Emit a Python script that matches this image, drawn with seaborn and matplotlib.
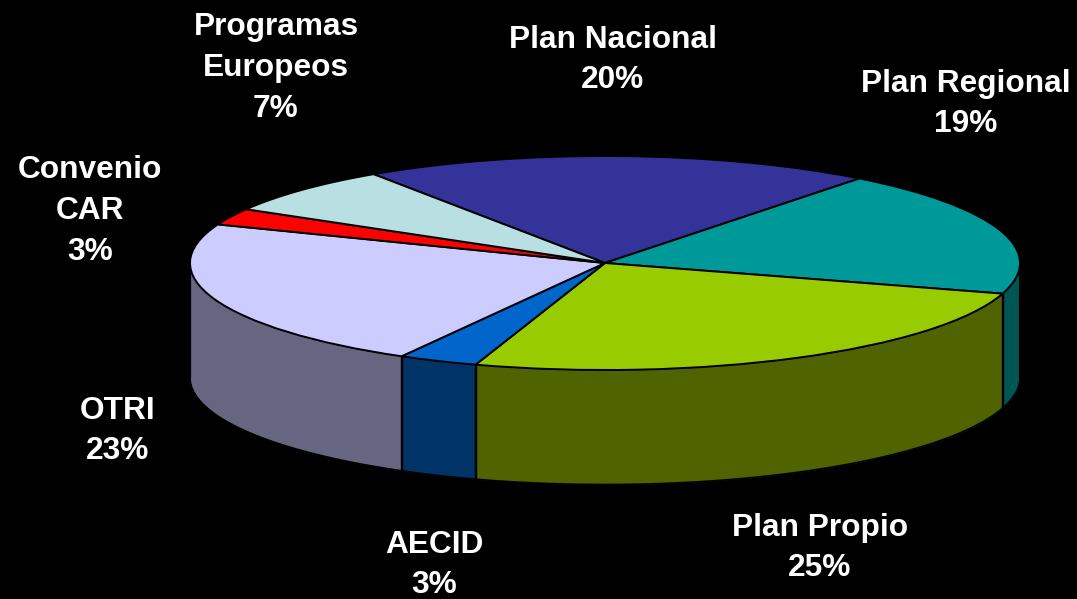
import numpy as np
import matplotlib
matplotlib.use("Agg")
import matplotlib.pyplot as plt
import seaborn as sns

categories = ["Plan Nacional", "Plan Regional", "Plan Propio", "AECID", "OTRI", "Convenio CAR", "Programas Europeos"]
shares = [19.9, 19.1, 25.4, 3.1, 22.7, 2.5, 7.2]
percent_labels = ["20%", "19%", "25%", "3%", "23%", "3%", "7%"]
top_colors = ["#333399", "#009999", "#99CC00", "#0066CC", "#CCCCFF", "#FF0000", "#B8E0E2"]
side_colors = ["#1A1A4D", "#005555", "#4F6300", "#003366", "#666680", "#800000", "#5C7071"]
label_lines = ["Plan Nacional", "Plan Regional", "Plan Propio", "AECID", "OTRI", "Convenio\nCAR", "Programas\nEuropeos"]
label_px = [(613, 60), (966, 104), (820, 548), (434, 565), (118, 431), (90, 211), (276, 68)]

W, H = 1077, 599
CX, CY, RX, RY, DEPTH = 605, 263, 415, 107, 114.5
START = 123.9

sns.set_theme(style="white", rc={"figure.facecolor": "black", "axes.facecolor": "black"})
plt.rcParams["font.family"] = ["Liberation Sans", "DejaVu Sans"]

fig = plt.figure(figsize=(W / 100, H / 100), dpi=100, facecolor="black")
ax = fig.add_axes([0, 0, 1, 1])

# Side wall: the front half of the rim, extruded downward
depth = DEPTH / RY
fractions = np.cumsum([0] + shares) / sum(shares)
edges = START - 360 * fractions
for i, color in enumerate(side_colors):
    a0, a1 = edges[i], edges[i + 1]
    for shift in (0, -360):
        l, h = max(a1 - shift, -180), min(a0 - shift, 0)
        if h <= l:
            continue
        t = np.radians(np.linspace(h, l, 80))
        x, y = np.cos(t), np.sin(t)
        ax.fill_between(x, y, y - depth, color=color, lw=0, zorder=1)
        ax.plot(x, y - depth, color="black", lw=1.2, zorder=2)
        for tv in (t[0], t[-1]):
            ax.plot([np.cos(tv)] * 2, [np.sin(tv), np.sin(tv) - depth],
                    color="black", lw=1.6, zorder=2)

wedges, _ = ax.pie(shares, colors=top_colors, startangle=START, counterclock=False,
                   wedgeprops={"edgecolor": "black", "linewidth": 1.4, "zorder": 3}, frame=True)
ax.set_aspect("auto")
ax.set_xlim(-CX / RX, (W - CX) / RX)
ax.set_ylim((CY - H) / RY, CY / RY)
ax.set_axis_off()

for text, pct, (px, py) in zip(label_lines, percent_labels, label_px):
    fig.text(px / W, 1 - py / H, f"{text}\n{pct}", color="white", fontsize=22.8, fontweight="bold",
             ha="center", va="center", linespacing=1.47, multialignment="center")

fig.savefig("out.png", dpi=100, facecolor="black")
